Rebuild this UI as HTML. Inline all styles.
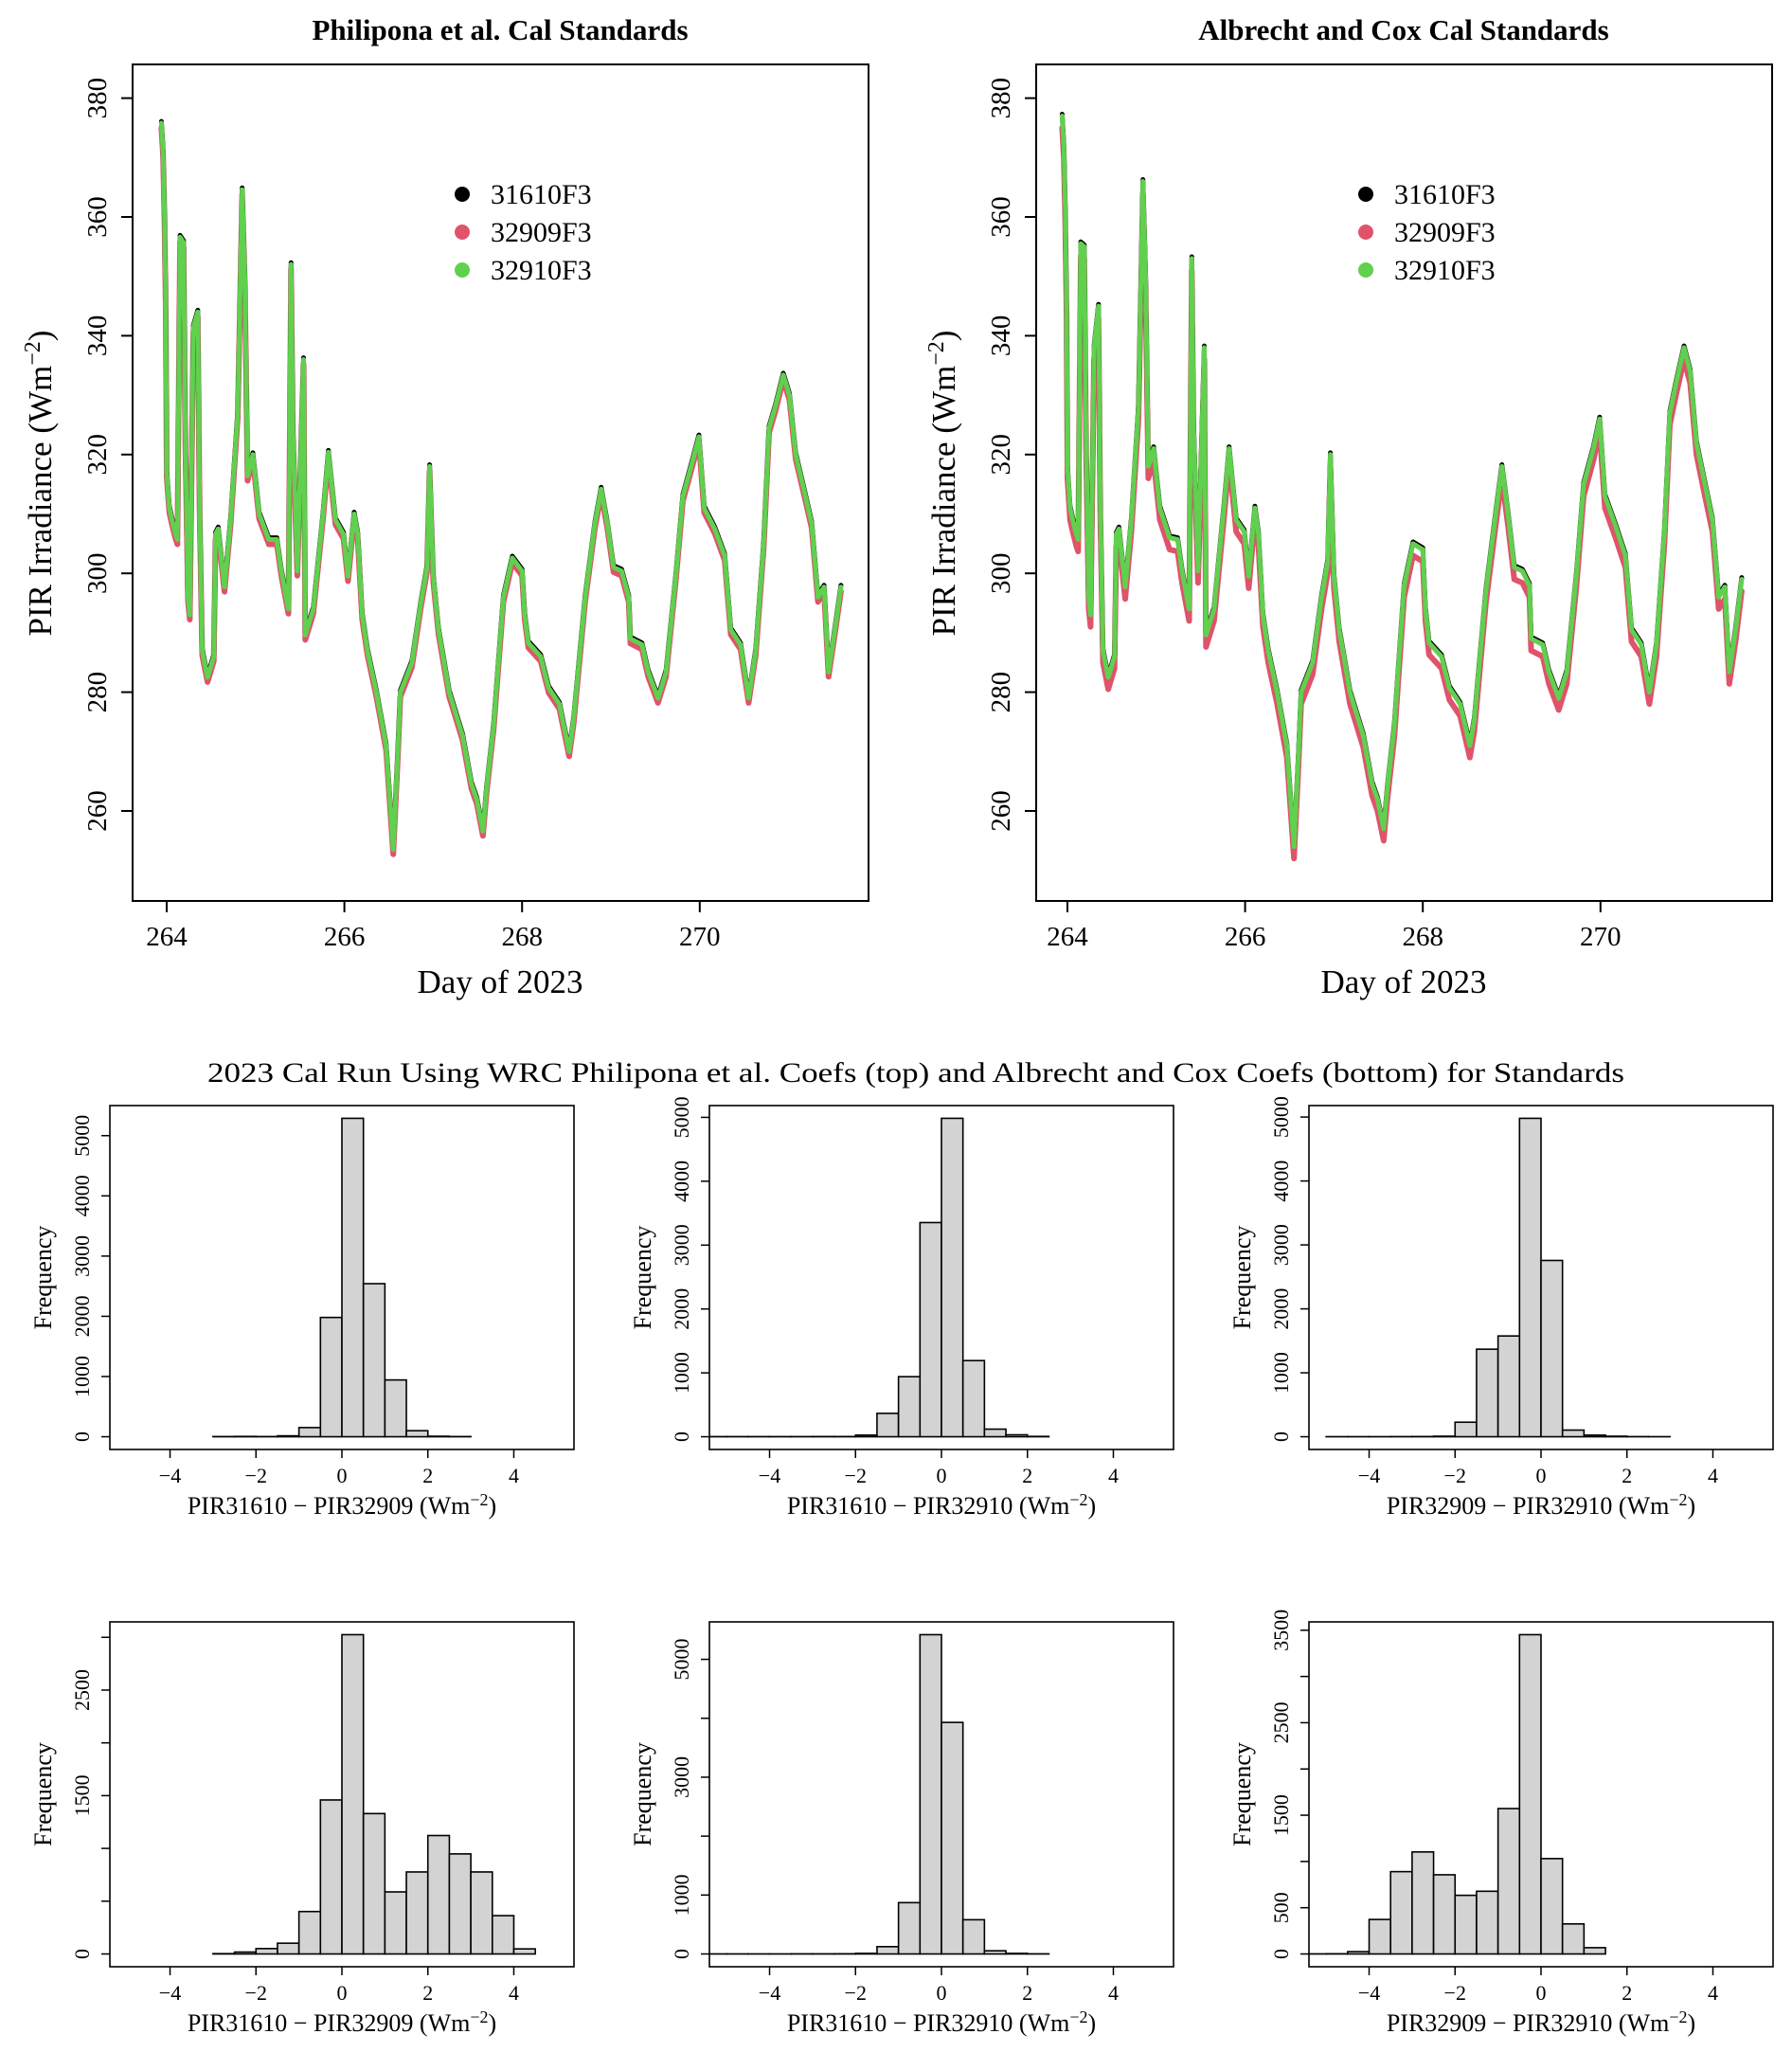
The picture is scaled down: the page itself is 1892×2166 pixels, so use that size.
<!DOCTYPE html>
<html><head><meta charset="utf-8"><style>
html,body{margin:0;padding:0;background:#fff;}
svg{display:block;font-family:"Liberation Serif",serif;}
</style></head><body>
<svg id="fig" width="1892" height="2166" viewBox="0 0 1892 2166" xmlns="http://www.w3.org/2000/svg"></svg>
<script>
// ---- time series data ----
const days = [263.94,263.96,263.975,263.99,264.0,264.03,264.06,264.1,264.12,264.15,264.19,264.21,264.24,264.26,264.3,264.35,264.37,264.4,264.46,264.53,264.55,264.58,264.65,264.72,264.8,264.85,264.88,264.91,264.97,265.04,265.15,265.24,265.29,265.37,265.4,265.42,265.47,265.54,265.56,265.65,265.76,265.82,265.9,265.99,266.04,266.11,266.15,266.2,266.26,266.36,266.47,266.55,266.6,266.63,266.76,266.86,266.93,266.96,267.0,267.06,267.18,267.33,267.43,267.49,267.56,267.6,267.68,267.79,267.89,268.0,268.03,268.07,268.21,268.3,268.42,268.53,268.58,268.71,268.82,268.89,268.96,269.03,269.12,269.2,269.22,269.35,269.42,269.53,269.62,269.73,269.81,269.92,269.99,270.05,270.17,270.28,270.35,270.46,270.55,270.63,270.72,270.78,270.85,270.94,271.01,271.08,271.19,271.26,271.33,271.4,271.45,271.52,271.59];
const philiponaVals = [375.8,371,360,344,317,311,309,306.6,305.7,356.6,355.7,322.7,296,293,341.4,344,312,287,282.5,286,306.6,307.5,297.7,309,327,364.6,349.5,316.4,320,310,305.7,305.7,300.4,294,352,324.5,300.4,336,289.6,294,310,320.4,309,306.6,299.5,310,306.6,293,287,280,271,253.5,269.5,280,285,295,301,318,299.5,290.5,280,272.7,264.6,262,256.6,263.8,274.5,296,302.6,300.4,293,288.3,286,280.7,278,270,275.4,296,308.4,314.2,308.4,301,300.4,296,289,288,283.4,279,283.4,299.5,313,319,323,311,307.5,303,290.5,288,279,287,305,324.5,328,333.4,330,320,313,308.4,296,297.7,283.4,290.5,297.7];
const albrechtVals = [377,372,361,345,318,311,309,306.6,305.7,355.5,355,322.7,296,293,338,345,312,287,282.5,286,306.6,307.5,297.7,309,328,366,350,318,321,311,306,305.7,300.4,294,353,324.5,300.4,338,289.6,294,311,321,309,307,299.5,311,306.6,293,287,280,271,254,269.5,280,285,296,302,320,299.5,290.5,280,272.7,264.6,262,257,263.8,274.5,298,305,304,294,288.3,286,280.7,278,271,275.4,297,310,318,310,301,300.4,298,289,288,283.4,279,283.4,300,315,321,326,313,308,303,290.5,288,280,288,307,327,332,338,334,322,314,309,296,297.7,283.4,290.5,299];
const seriesNames = ["31610F3","32909F3","32910F3"];
const seriesColors = ["#000000","#DF536B","#61D04F"];
const biasPhilipona = [0.3,-0.8,0];
const biasAlbrecht = [0.3,-2.0,0];
const yTicks = [260,280,300,320,340,360,380];
const xTicks = [264,266,268,270];

// ---- histogram data ----
const histStart = [-3,-5.5,-5,-3,-5.5,-5.5];
const histCounts = [
 [3,5,3,15,152,1981,5288,2542,943,100,8,3],
 [2,2,2,2,2,3,3,25,366,940,3353,4985,1192,119,30,5],
 [1,1,1,2,3,8,227,1369,1576,4980,2757,104,25,8,2,1],
 [3,18,51,102,402,1459,3025,1330,588,777,1122,948,777,363,48],
 [1,1,1,1,2,2,3,10,124,871,5419,3930,581,54,10,2],
 [1,2,25,373,890,1103,856,634,678,1572,3452,1031,325,68]
];
const histTicks = [
 [0,1000,2000,3000,4000,5000],[0,1000,2000,3000,4000,5000],[0,1000,2000,3000,4000,5000],
 [0,500,1000,1500,2000,2500,3000],[0,1000,2000,3000,4000,5000],[0,500,1000,1500,2000,2500,3000,3500]
];
const histTickLabels = [
 ["0","1000","2000","3000","4000","5000"],["0","1000","2000","3000","4000","5000"],["0","1000","2000","3000","4000","5000"],
 ["0","","","1500","","2500",""],["0","1000","","3000","","5000"],["0","500","","1500","","2500","","3500"]
];
const histXTicks = [-4,-2,0,2,4];
const histXLabels = ["PIR31610 \u2212 PIR32909","PIR31610 \u2212 PIR32910","PIR32909 \u2212 PIR32910","PIR31610 \u2212 PIR32909","PIR31610 \u2212 PIR32910","PIR32909 \u2212 PIR32910"];

const NS="http://www.w3.org/2000/svg";
const svg=document.getElementById('fig');
function mk(tag,attrs,parent){const e=document.createElementNS(NS,tag);for(const k in attrs)e.setAttribute(k,attrs[k]);(parent||svg).appendChild(e);return e;}

function tsPanel(idx,left,title,vals,bias,x264){
  const g=mk('g',{});
  
  
  const top=68,bottom=951;
  const xs=d=>x264+(d-264)*93.8;
  const ys=v=>856-(v-260)*6.27;
  const cid='clip'+idx;
  const cp=mk('clipPath',{id:cid},g);mk('rect',{x:left,y:top,width:777,height:bottom-top},cp);
  const t=mk('text',{x:left+388,y:42,'text-anchor':'middle','font-size':31,'font-weight':'bold'},g);t.textContent=title;
  
  
  const widths=[5,6,5];
  const order=[1,0,2];
  order.forEach(s=>{
    const pts=days.map((d,i)=>xs(d).toFixed(1)+','+ys(vals[i]+bias[s]).toFixed(1)).join(' ');
    const pl=mk('polyline',{points:pts,fill:'none',stroke:seriesColors[s],'stroke-width':widths[s],'stroke-linejoin':'round','stroke-linecap':'round','clip-path':'url(#'+cid+')'},g);
    
    
  });
  const box=mk('rect',{x:left,y:top,width:777,height:bottom-top,fill:'none',stroke:'#000','stroke-width':2},g);
  
  
  yTicks.forEach(v=>{
    mk('line',{x1:left,x2:left-12,y1:ys(v),y2:ys(v),stroke:'#000','stroke-width':2},g);
    const tl=mk('text',{x:0,y:0,'font-size':29,'text-anchor':'middle',transform:'translate('+(left-28)+','+ys(v)+') rotate(-90)'},g);tl.textContent=v;
    
    
  });
  xTicks.forEach(d=>{
    mk('line',{x1:xs(d),x2:xs(d),y1:bottom,y2:bottom+12,stroke:'#000','stroke-width':2},g);
    const tl=mk('text',{x:xs(d),y:998,'font-size':29,'text-anchor':'middle'},g);tl.textContent=d;
    
    
  });
  const xl=mk('text',{x:left+388,y:1048,'font-size':35,'text-anchor':'middle'},g);xl.textContent='Day of 2023';
  
  
  const yl=mk('text',{x:0,y:0,'font-size':35,'text-anchor':'middle',transform:'translate('+(left-86)+',510) rotate(-90)'},g);
  yl.innerHTML='PIR Irradiance (Wm<tspan dy="-12" font-size="24">\u22122</tspan><tspan dy="12">)</tspan>';
  
  
  for(let s=0;s<3;s++){
    const le=mk('g',{},g);
    
    
    mk('circle',{cx:left+348,cy:205+40*s,r:8,fill:seriesColors[s]},le);
    const lt=mk('text',{x:left+378,y:215+40*s,'font-size':30},le);lt.textContent=seriesNames[s];
  }
}
tsPanel(0,140,'Philipona et al. Cal Standards',philiponaVals,biasPhilipona,176);
tsPanel(1,1094,'Albrecht and Cox Cal Standards',albrechtVals,biasAlbrecht,1127);

const mt=mk('text',{x:967,y:1142,'font-size':30,'text-anchor':'middle',textLength:1496,lengthAdjust:'spacingAndGlyphs'});
mt.textContent='2023 Cal Run Using WRC Philipona et al. Coefs (top) and Albrecht and Cox Coefs (bottom) for Standards';



function histPanel(k){
  const col=k%3,row=Math.floor(k/3);
  const left=116+633*col,w=490;
  const top=row===0?1167:1712,bottom=row===0?1530:2076;
  const counts=histCounts[k];const M=Math.max(...counts);
  const xs=v=>left+(v+5.4)/10.8*w;
  const ys=c=>bottom-(c+0.04*M)/(1.08*M)*(bottom-top);
  const g=mk('g',{});
  
  
  const cid='hclip'+k;
  const cp=mk('clipPath',{id:cid},g);mk('rect',{x:left,y:top,width:w,height:bottom-top},cp);
  counts.forEach((c,i)=>{
    const a=histStart[k]+0.5*i;
    const r=mk('rect',{x:xs(a),y:ys(c),width:xs(a+0.5)-xs(a),height:ys(0)-ys(c),fill:'#D3D3D3',stroke:'#000','stroke-width':1.6,'clip-path':'url(#'+cid+')'},g);
    
    
  });
  const box=mk('rect',{x:left,y:top,width:w,height:bottom-top,fill:'none',stroke:'#000','stroke-width':1.6},g);
  
  
  histTicks[k].forEach((v,i)=>{
    mk('line',{x1:left,x2:left-9,y1:ys(v),y2:ys(v),stroke:'#000','stroke-width':1.5},g);
    const lab=histTickLabels[k][i];
    if(lab){const tl=mk('text',{x:0,y:0,'font-size':22,'text-anchor':'middle',transform:'translate('+(left-22)+','+ys(v)+') rotate(-90)'},g);tl.textContent=lab;
      
      }
  });
  histXTicks.forEach(v=>{
    mk('line',{x1:xs(v),x2:xs(v),y1:bottom,y2:bottom+9,stroke:'#000','stroke-width':1.5},g);
    const tl=mk('text',{x:xs(v),y:bottom+35,'font-size':22,'text-anchor':'middle'},g);tl.textContent=(v<0?'\u2212'+(-v):v);
    
    
  });
  const xl=mk('text',{x:left+245,y:bottom+68,'font-size':26,'text-anchor':'middle'},g);
  xl.innerHTML=histXLabels[k]+' (Wm<tspan dy="-9" font-size="18">\u22122</tspan><tspan dy="9">)</tspan>';
  
  
  const yl=mk('text',{x:0,y:0,'font-size':26,'text-anchor':'middle',transform:'translate('+(left-62)+','+((top+bottom)/2)+') rotate(-90)'},g);
  yl.textContent='Frequency';
  
  
}
for(let k=0;k<6;k++)histPanel(k);
</script>
</body></html>
